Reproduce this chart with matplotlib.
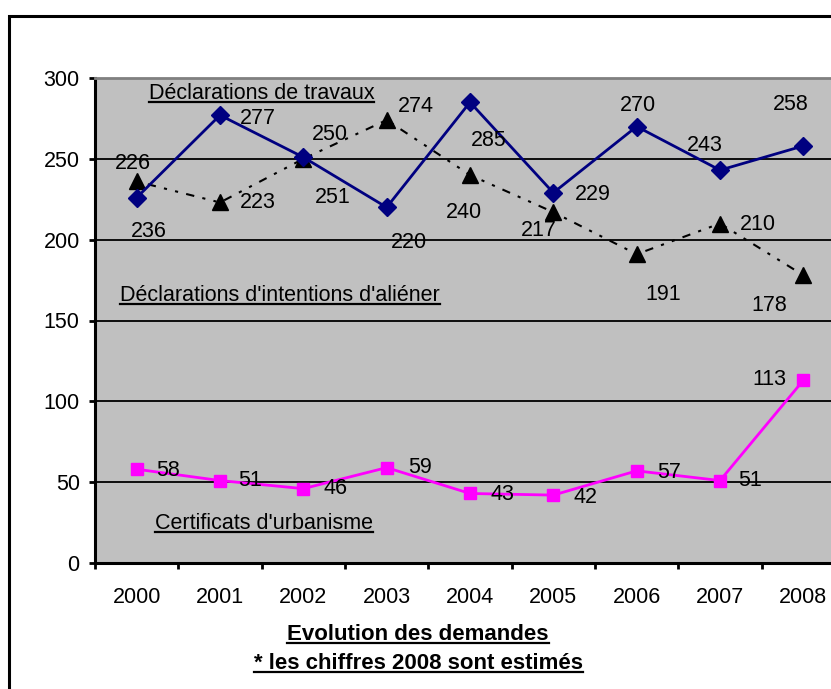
import matplotlib
matplotlib.use("Agg")
import matplotlib.pyplot as plt
from matplotlib.lines import Line2D
from matplotlib.patches import Rectangle
from matplotlib.transforms import IdentityTransform

plt.rcParams['font.family'] = ['Liberation Sans', 'DejaVu Sans']

# data
years = ['2000', '2001', '2002', '2003', '2004', '2005', '2006', '2007', '2008']
travaux = [226, 277, 251, 220, 285, 229, 270, 243, 258]
alienations = [236, 223, 250, 274, 240, 217, 191, 210, 178]
urbanisme = [58, 51, 46, 59, 43, 42, 57, 51, 113]

# label offsets (pixels: dx, dy up) as placed in the original
travaux_off = [(-4, 34), (38, -3), (29, -40), (22, -35), (19, -38), (39, -2), (1, 21), (-15, 25), (-13, 41)]
alien_off = [(12, -50), (38, 0), (27, 24), (29, 14), (-6, -37), (-15, -18), (27, -40), (38, -1), (-34, -30)]
urba_off = [(31, -1), (30, 0), (32, 0), (33, 0), (32, -1), (32, -2), (32, -2), (30, 0), (-34, 1)]

W, H = 831, 689
fig = plt.figure(figsize=(W / 100, H / 100), dpi=100)
ax = fig.add_axes([95 / W, 126 / H, 750 / W, 485 / H])
ax.set_facecolor('#C0C0C0')

x = list(range(len(years)))
ax.plot(x, alienations, color='black', lw=1.5, ls=(0, (1.5, 4, 4, 4, 1.5, 4)),
        marker='^', ms=12, zorder=3)
ax.plot(x, travaux, color='#000080', lw=2, marker='D', ms=9, zorder=4)
ax.plot(x, urbanisme, color='#FF00FF', lw=2, marker='s', ms=9, zorder=4)

fs = 15.5
for vals, offs in [(travaux, travaux_off), (alienations, alien_off), (urbanisme, urba_off)]:
    for i, v in enumerate(vals):
        ax.annotate(str(v), (i, v), xytext=offs[i], textcoords='offset pixels',
                    ha='center', va='center', fontsize=fs, zorder=5)

ax.set_xlim(-0.5, len(years) - 0.5)
ax.set_ylim(0, 300)
ax.set_yticks(range(0, 301, 50))
ax.yaxis.grid(True, color='black', lw=1.3)
ax.set_axisbelow(True)
ax.tick_params(axis='y', length=4, width=2, pad=7, labelsize=fs)

ax.set_xticks([i - 0.5 for i in range(len(years) + 1)])
ax.set_xticklabels([])
ax.set_xticks(x, minor=True)
ax.set_xticklabels(years, minor=True)
ax.tick_params(axis='x', which='major', length=4, width=2)
ax.tick_params(axis='x', which='minor', length=0, pad=17, labelsize=fs)

for s in ['left', 'bottom']:
    ax.spines[s].set_linewidth(2.2)
ax.spines['top'].set_color('#808080')
ax.spines['top'].set_linewidth(2)
ax.spines['right'].set_visible(False)

# series names
names = []
names.append(ax.text(1.5, 287, "Déclarations de travaux", ha='center', va='baseline', fontsize=fs))
names.append(ax.text(1.72, 162, "Déclarations d'intentions d'aliéner", ha='center', va='baseline', fontsize=fs))
names.append(ax.text(1.53, 21, "Certificats d'urbanisme", ha='center', va='baseline', fontsize=fs))

t1 = fig.text(418 / W, 1 - 640 / H, "Evolution des demandes", ha='center', va='baseline',
              fontsize=16, fontweight='bold')
t2 = fig.text(418 / W, 1 - 669 / H, "* les chiffres 2008 sont estimés", ha='center', va='baseline',
              fontsize=16, fontweight='bold')

# outer frame
frame = Rectangle((9 / W, -0.5), 2, 1.5 - 16 / H, fill=False, lw=2.2, ec='black',
                  transform=fig.transFigure, clip_on=False)
fig.add_artist(frame)

# underlines
fig.canvas.draw()
r = fig.canvas.get_renderer()
for t in names + [t1, t2]:
    bb = t.get_window_extent(r)
    yb = t.get_transform().transform(t.get_position())[1]
    fig.add_artist(Line2D([bb.x0, bb.x1], [yb - 3, yb - 3], color='black', lw=1.6,
                          transform=IdentityTransform()))

fig.savefig('out.png', dpi=100)
